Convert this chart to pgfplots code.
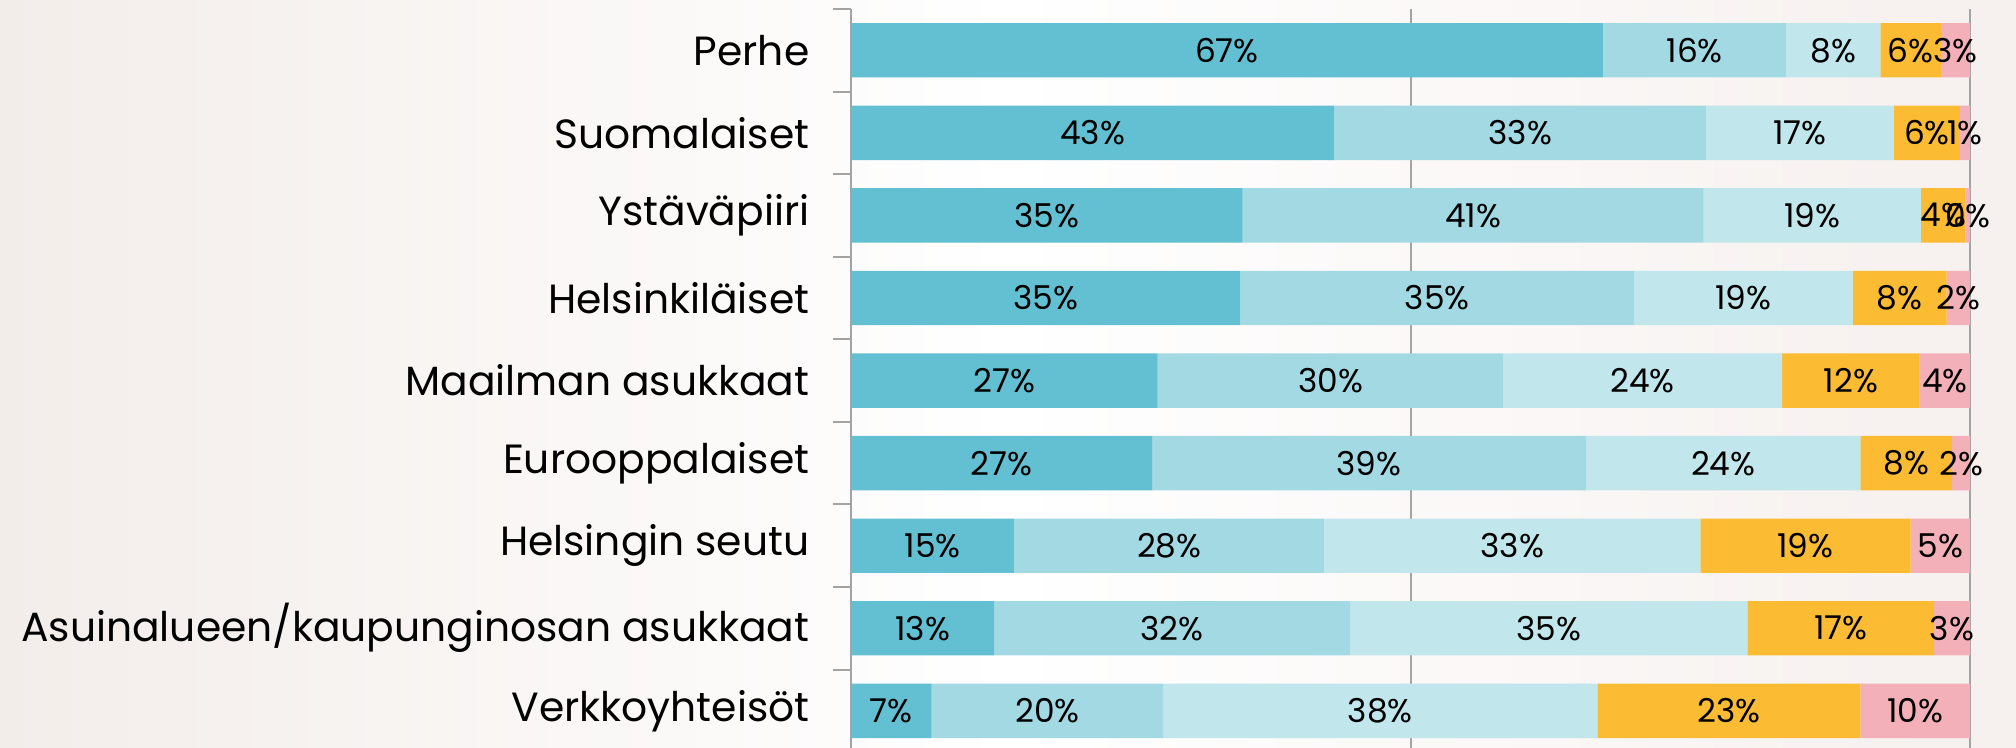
\documentclass[border=0pt]{standalone}
\usepackage{pgfplots}
\pgfplotsset{compat=1.18}
\usepackage{fontspec}
\setmainfont{Poppins}

\definecolor{c1}{HTML}{63C0D2}
\definecolor{c2}{HTML}{A2D9E3}
\definecolor{c3}{HTML}{C1E6EB}
\definecolor{c4}{HTML}{FBBC33}
\definecolor{c5}{HTML}{F4B0B8}
\definecolor{bgl}{HTML}{F3EDEA}
\definecolor{bgr}{HTML}{F6F0EE}
\definecolor{axgray}{HTML}{A3A3A3}

\begin{document}
\begin{tikzpicture}
    \useasboundingbox (0,0) rectangle (504pt,187pt);
    \shade[left color=bgl, right color=bgr, middle color=white] (0,0) rectangle (504pt,187pt);
    \begin{axis}[
        at={(212.75pt,0pt)}, anchor=south west,
        scale only axis,
        width=279.75pt, height=184.75pt,
        xbar stacked,
        bar width=13.6pt,
        xmin=0, xmax=100,
        ymin=-0.5, ymax=8.45,
        y dir=reverse,
        ytick={0,...,8},
        yticklabels={Perhe,Suomalaiset,Ystäväpiiri,Helsinkiläiset,Maailman asukkaat,Eurooppalaiset,Helsingin seutu,Asuinalueen/kaupunginosan asukkaat,Verkkoyhteisöt},
        minor ytick={-0.5,0.5,...,7.5},
        ytick pos=left,
        tick align=outside,
        major tick length=0pt,
        minor tick length=4.5pt,
        minor tick style={draw=axgray, line width=0.5pt},
        yticklabel style={font=\fontsize{10.2}{12}\selectfont, inner sep=0pt, xshift=-10.2pt},
        xtick={50,100},
        xticklabels={},
        xmajorgrids,
        major grid style={draw=axgray, line width=0.5pt},
        separate axis lines,
        every outer x axis line/.append style={draw=none},
        every outer y axis line/.append style={draw=axgray, line width=0.5pt},
        point meta=explicit symbolic,
        nodes near coords={\pgfplotspointmeta\%},
        every node near coord/.append style={font=\fontsize{8.2}{10}\selectfont, text=black, anchor=center},
        every axis plot/.append style={draw=none},
    ]
        \addplot[fill=c1] coordinates {
            (67.2,0) [67] (43.2,1) [43] (35.0,2) [35] (34.8,3) [35] (27.4,4) [27]
            (26.9,5) [27] (14.6,6) [15] (12.8,7) [13] (7.2,8) [7]
        };
        \addplot[fill=c2] coordinates {
            (16.4,0) [16] (33.2,1) [33] (41.2,2) [41] (35.2,3) [35] (30.9,4) [30]
            (38.8,5) [39] (27.7,6) [28] (31.8,7) [32] (20.7,8) [20]
        };
        \addplot[fill=c3] coordinates {
            (8.4,0) [8] (16.8,1) [17] (19.4,2) [19] (19.5,3) [19] (24.9,4) [24]
            (24.5,5) [24] (33.6,6) [33] (35.5,7) [35] (38.8,8) [38]
        };
        \addplot[fill=c4] coordinates {
            (5.4,0) [6] (5.9,1) [6] (4.0,2) [4] (8.4,3) [8] (12.3,4) [12]
            (8.2,5) [8] (18.8,6) [19] (16.7,7) [17] (23.5,8) [23]
        };
        \addplot[fill=c5] coordinates {
            (2.6,0) [3] (0.9,1) [1] (0.4,2) [0] (2.1,3) [2] (4.5,4) [4]
            (1.6,5) [2] (5.3,6) [5] (3.2,7) [3] (9.8,8) [10]
        };
    \end{axis}
\end{tikzpicture}
\end{document}
